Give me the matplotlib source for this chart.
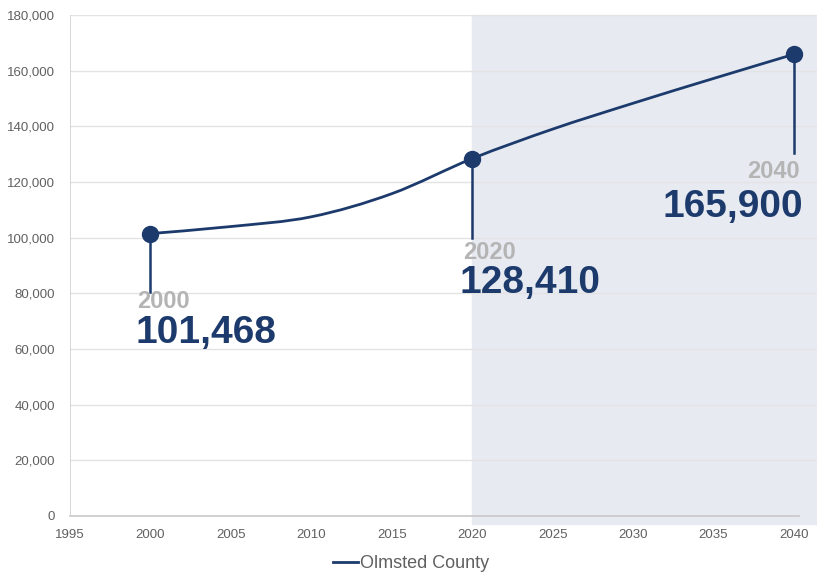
import numpy as np
import matplotlib.pyplot as plt
from matplotlib.path import Path
from matplotlib.patches import PathPatch
from matplotlib.lines import Line2D
from matplotlib.ticker import FuncFormatter

# population
years = [2000, 2005, 2010, 2015, 2020, 2025, 2030, 2035, 2040]
population = [101468, 104000, 107500, 115800, 128410, 139000, 148300, 157200, 165900]

# labelled points
label_years = [2000, 2020, 2040]
label_values = [101468, 128410, 165900]
label_text = ["101,468", "128,410", "165,900"]
drop_to = [80500, 100000, 130500]

navy = "#1c3b6c"
gray_txt = "#606060"
grid_c = "#e3e3e3"
narrow = ["Liberation Sans Narrow", "Liberation Sans", "DejaVu Sans"]
bold = ["Liberation Sans", "DejaVu Sans"]

fig = plt.figure(figsize=(8.17, 5.74), dpi=100)
ax = fig.add_axes([70 / 817, (574 - 516) / 574, 1 - 70 / 817, (516 - 15) / 574])
ax.set_xlim(1995, 2041.43)
ax.set_ylim(0, 180000)
for s in ax.spines.values():
    s.set_visible(False)

# projection shading
ax.axvspan(2020, 2041.43, ymin=-0.016, ymax=1.0, color="#e8eaf2", zorder=0, clip_on=False)

# grid + axes lines
for v in range(20000, 180001, 20000):
    ax.axhline(v, color=grid_c, lw=1, zorder=1)
ax.plot([1995, 2040.3], [0, 0], color="#c8c8c8", lw=1.2, zorder=2, clip_on=False)
ax.axvline(1995, color="#cfcfcf", lw=1.2, zorder=2)

# smooth line through points (Catmull-Rom -> bezier)
x = np.array(years, float)
y = np.array(population, float)
px = np.concatenate([[x[0]], x, [x[-1]]])
py = np.concatenate([[y[0]], y, [y[-1]]])
verts = [(x[0], y[0])]
codes = [Path.MOVETO]
for i in range(1, len(px) - 2):
    c1 = (px[i] + (px[i + 1] - px[i - 1]) / 6, py[i] + (py[i + 1] - py[i - 1]) / 6)
    c2 = (px[i + 1] - (px[i + 2] - px[i]) / 6, py[i + 1] - (py[i + 2] - py[i]) / 6)
    verts += [c1, c2, (px[i + 1], py[i + 1])]
    codes += [Path.CURVE4] * 3
ax.add_patch(PathPatch(Path(verts, codes), fill=False, edgecolor=navy, lw=2, zorder=4))

# drop lines, markers and labels
for yr, val, txt, d in zip(label_years, label_values, label_text, drop_to):
    ax.plot([yr, yr], [d, val], color=navy, lw=1.8, zorder=3)
ax.plot(label_years, label_values, "o", color=navy, ms=11.5, zorder=5, clip_on=False)

ax.text(1999.2, 74700, "2000", color="#b4b4b4", fontsize=17, fontweight="bold", family=bold)
ax.text(1999.05, 62100, "101,468", color=navy, fontsize=28, fontweight="bold", family=bold)
ax.text(2019.45, 92300, "2020", color="#b4b4b4", fontsize=17, fontweight="bold", family=bold)
ax.text(2019.2, 80100, "128,410", color=navy, fontsize=28, fontweight="bold", family=bold)
ax.text(2040.35, 121400, "2040", color="#b4b4b4", fontsize=17, fontweight="bold", family=bold, ha="right")
ax.text(2040.55, 107400, "165,900", color=navy, fontsize=28, fontweight="bold", family=bold, ha="right")

# ticks
ax.set_xticks(range(1995, 2041, 5))
ax.set_yticks(range(0, 180001, 20000))
ax.yaxis.set_major_formatter(FuncFormatter(lambda v, p: f"{int(v):,}"))
ax.tick_params(length=0, colors=gray_txt, labelsize=9.5)
ax.tick_params(axis="x", pad=9)
ax.tick_params(axis="y", pad=11)
for lab in ax.get_xticklabels() + ax.get_yticklabels():
    lab.set_family(narrow)

h = Line2D([], [], color=navy, lw=2)
fig.legend([h], ["Olmsted County"], loc="center", bbox_to_anchor=(0.503, 0.018),
           frameon=False, handlelength=1.4, handletextpad=0.1,
           prop={"family": narrow, "size": 13}, labelcolor=gray_txt)

fig.savefig("out.png", dpi=100)
